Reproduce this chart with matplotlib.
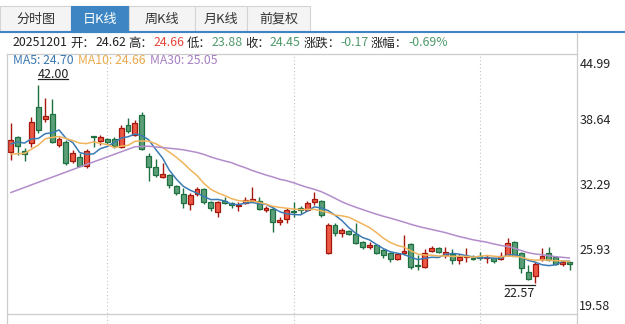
import numpy as np
import pandas as pd
import matplotlib
matplotlib.use("Agg")
import matplotlib.pyplot as plt
from matplotlib.patches import Rectangle
from matplotlib.lines import Line2D
from matplotlib.transforms import ScaledTranslation

plt.rcParams['font.family'] = ['Noto Sans CJK SC', 'DejaVu Sans']

# ---------------- data (daily K line) ----------------
open_ = [35.38, 36.85, 35.48, 36.26, 39.78, 38.61, 39.10, 36.07, 36.42, 34.53,
         34.95, 34.07, 36.90, 36.49, 36.65, 36.65, 35.93, 38.02, 37.07, 39.03,
         35.05, 33.91, 32.94, 33.19, 32.06, 31.28, 30.30, 31.28, 31.76, 30.49,
         29.57, 30.65, 30.42, 30.10, 30.42, 30.59, 30.65, 29.77, 29.81, 28.54,
         28.83, 29.64, 29.91, 29.74, 30.49, 30.59, 25.51, 28.27, 27.52, 27.72,
         27.37, 26.64, 26.15, 26.32, 25.83, 25.51, 24.95, 25.51, 26.42, 24.30,
         24.14, 25.76, 25.99, 25.34, 25.44, 24.85, 25.12, 25.10, 25.24, 25.02,
         25.02, 24.92, 25.34, 26.64, 25.51, 23.71, 23.29, 24.92, 25.57, 25.12,
         24.43, 24.62]
high = [38.27, 36.95, 35.77, 38.83, 42.00, 40.66, 40.64, 36.90, 36.58, 35.61,
        35.28, 35.70, 36.92, 37.07, 36.75, 36.85, 38.05, 38.70, 38.54, 39.29,
        35.28, 34.76, 34.31, 33.30, 32.20, 31.86, 31.40, 31.95, 31.90, 30.60,
        30.60, 30.98, 30.50, 30.49, 30.98, 31.96, 30.98, 30.16, 30.06, 29.03,
        29.97, 30.49, 30.16, 30.65, 31.47, 30.70, 28.47, 28.50, 28.01, 27.80,
        28.50, 26.70, 26.64, 26.40, 25.90, 25.60, 25.50, 27.29, 26.50, 25.34,
        25.93, 26.22, 26.10, 26.15, 25.90, 25.44, 25.99, 25.30, 25.64, 25.34,
        25.10, 25.64, 26.98, 26.75, 25.60, 24.36, 24.70, 25.99, 26.15, 25.20,
        24.85, 24.66]
low = [34.63, 35.12, 34.53, 35.93, 37.30, 38.34, 36.30, 35.90, 34.14, 34.31,
       34.00, 33.82, 35.93, 36.10, 36.20, 35.80, 35.85, 37.24, 36.95, 35.60,
       32.58, 33.00, 32.90, 31.86, 31.21, 29.91, 29.74, 31.10, 30.33, 29.67,
       29.03, 30.30, 29.91, 29.64, 30.30, 30.50, 29.70, 29.57, 27.62, 28.27,
       28.50, 29.09, 29.35, 29.60, 30.23, 29.03, 25.41, 27.23, 27.07, 27.30,
       26.40, 25.90, 25.90, 25.41, 25.08, 24.69, 24.90, 25.34, 23.94, 23.88,
       24.05, 25.60, 25.50, 25.02, 24.46, 24.46, 24.69, 24.85, 24.90, 24.59,
       24.60, 24.85, 25.25, 25.20, 23.55, 22.90, 22.57, 24.80, 24.80, 24.40,
       24.30, 23.88]
close = [36.58, 36.00, 35.24, 38.31, 37.53, 38.93, 36.42, 36.65, 34.31, 35.34,
         34.07, 35.54, 36.88, 36.88, 36.39, 36.00, 37.73, 37.49, 38.22, 35.67,
         33.91, 33.13, 33.23, 32.16, 31.43, 30.40, 31.18, 31.82, 30.49, 29.91,
         30.49, 30.45, 30.20, 30.26, 30.69, 30.79, 29.81, 29.97, 28.54, 28.76,
         29.74, 29.54, 29.74, 30.40, 30.82, 29.22, 28.27, 27.46, 27.79, 27.37,
         26.49, 26.15, 26.32, 25.57, 25.34, 24.95, 25.44, 25.73, 24.14, 24.26,
         25.51, 25.99, 25.60, 25.60, 24.85, 25.12, 25.24, 25.00, 25.02, 25.12,
         24.76, 25.24, 26.55, 25.28, 24.04, 22.97, 24.43, 25.25, 24.85, 24.46,
         24.69, 24.45]
# closes before the visible window (estimated so the moving averages start where shown)
hist_close = [28.5, 27.7, 30.8, 30.0, 31.4, 28.9, 29.2, 26.8, 27.8, 26.6,
              28.1, 29.5, 29.5, 29.0, 28.6, 30.3, 30.1, 30.8, 34.8, 33.0,
              35.5, 35.0, 34.2, 33.5, 32.8, 35.0, 35.8, 36.2, 37.4]

tabs = ['分时图', '日K线', '周K线', '月K线', '前复权']
selected_tab = 1
y_ticks = [44.99, 38.64, 32.29, 25.93, 19.58]
month_start_idx = [14, 41, 68]
ma_periods = [5, 10, 30]
ma_labels = ['MA5: 24.70', 'MA10: 24.66', 'MA30: 25.05']
info_parts = [('20251201', 'k'), ('开：', 'k'), ('24.62', 'k'), ('高：', 'k'),
              ('24.66', 'r'), ('低：', 'k'), ('23.88', 'g'), ('收：', 'k'),
              ('24.45', 'g'), ('涨跌：', 'k'), ('-0.17', 'g'), ('涨幅：', 'k'),
              ('-0.69%', 'g')]

# ---------------- layout / style ----------------
W, H = 625, 324
fig = plt.figure(figsize=(W / 100, H / 100), dpi=100)
fig.patch.set_facecolor('white')
renderer = fig.canvas.get_renderer()

def fx(x):
    return x / W

def fy(y):
    return 1 - y / H

BLUE_TAB = '#3d86c3'
BORDER = '#cccccc'
RED_TXT = '#e5473a'
GRN_TXT = '#4f9a6b'
txt_col = {'k': '#222222', 'r': RED_TXT, 'g': GRN_TXT}

# tabs
tab_edges = [0, 71, 129, 195, 247, 310]
for k, name in enumerate(tabs):
    x0, x1 = tab_edges[k], tab_edges[k + 1]
    sel = (k == selected_tab)
    fig.patches.append(Rectangle((fx(x0), fy(31.5)), (x1 - x0) / W, (31.5 - 6) / H,
                                 transform=fig.transFigure,
                                 facecolor=BLUE_TAB if sel else '#f4f4f4',
                                 edgecolor=BLUE_TAB if sel else '#d4d4d4', lw=0.8))
    fig.text(fx((x0 + x1) / 2), fy(19), name, ha='center', va='center',
             fontsize=9.4, color='white' if sel else '#333333')
fig.add_artist(Line2D([0, 1], [fy(32.3)] * 2, color=BLUE_TAB, lw=1.5))

# info line: pieces laid out one after another
x = 13.0
for k, (t, c) in enumerate(info_parts):
    txt = fig.text(fx(x), fy(43), t, ha='left', va='center', fontsize=8.9,
                   color=txt_col[c])
    bb = txt.get_window_extent(renderer=renderer)
    x += bb.width
    if t[-1] != '：':
        x += 2.5

# price axes
ax = fig.add_axes([fx(7), fy(314), (577 - 7) / W, (314 - 54) / H])
px_per_candle = 6.9
left = -(10.7 - 7) / px_per_candle
ax.set_xlim(left, left + 570 / px_per_candle)
ax.set_ylim(y_ticks[-1], y_ticks[0])
ax.set_xticks([])
ax.set_yticks([])
for sp in ax.spines.values():
    sp.set_visible(False)
ax.patch.set_alpha(0)

n = len(close)
idx = np.arange(n)
for g in month_start_idx:
    ax.axvline(g, ymin=-10 / 260, ymax=1, clip_on=False, color='#c4c4c4',
               ls=(0, (1, 2.2)), lw=0.8, zorder=1)

RED_FILL, RED_EDGE = '#ec5844', '#a3170d'
GRN_FILL, GRN_EDGE = '#5b9e78', '#1d7040'
bw = 0.7
for i in range(n):
    o, h, l, c = open_[i], high[i], low[i], close[i]
    up = c > o
    fill = RED_FILL if up else GRN_FILL
    edge = RED_EDGE if up else GRN_EDGE
    ax.vlines(i, l, h, color=edge, lw=1.0, zorder=2)
    ax.add_patch(Rectangle((i - bw / 2, min(o, c)), bw, max(abs(c - o), 0.06),
                           facecolor=fill, edgecolor=edge, lw=0.9, zorder=3))

all_close = pd.Series(hist_close + close)
ma_colors = ['#3b7bb5', '#f0b45c', '#b28ccb']
for p, col in zip(ma_periods, ma_colors):
    ma = all_close.rolling(p).mean().iloc[-n:].to_numpy()
    ax.plot(idx, ma, color=col, lw=1.1, zorder=4, solid_capstyle='round')

# MA legend, laid out one after another
x = 12.7
for lab, col in zip(ma_labels, ['#3a78b0', '#eaa94c', '#a67ec2']):
    txt = fig.text(fx(x), fy(61), lab, ha='left', va='center', fontsize=8.8, color=col)
    x += txt.get_window_extent(renderer=renderer).width + 4.5

# right-hand price labels
for k, v in enumerate(y_ticks):
    dy = -10 if k == 0 else (7 if k == len(y_ticks) - 1 else -1.5)
    ax.annotate(f'{v:.2f}', xy=(1, v), xycoords=('axes fraction', 'data'),
                xytext=(2.3 * 0.72, dy * 0.72), textcoords='offset points',
                ha='left', va='center', fontsize=9, color='#222222',
                annotation_clip=False)

# max / min markers
hi_i = int(np.argmax(high))
lo_i = int(np.argmin(low))
d = 30 / px_per_candle
t_hi = ax.transData + ScaledTranslation(0, 5.3 / 100, fig.dpi_scale_trans)
ax.plot([hi_i, hi_i + d], [high[hi_i]] * 2, transform=t_hi, color='#222222', lw=0.9,
        clip_on=False)
ax.annotate(f'{high[hi_i]:.2f}', xy=(hi_i, high[hi_i]), xytext=(15 * 0.72, 6.8 * 0.72),
            textcoords='offset points', ha='center', va='baseline', fontsize=9,
            color='#222222')
t_lo = ax.transData + ScaledTranslation(0, -1.7 / 100, fig.dpi_scale_trans)
ax.plot([lo_i - d, lo_i], [low[lo_i]] * 2, transform=t_lo, color='#222222', lw=0.9,
        clip_on=False)
ax.annotate(f'{low[lo_i]:.2f}', xy=(lo_i, low[lo_i]), xytext=(-15.5 * 0.72, -9.7 * 0.72),
            textcoords='offset points', ha='center', va='center', fontsize=9,
            color='#222222')

# frame lines
for xs, ys in [([7, 7], [54, 324]), ([577, 577], [33, 324]),
               ([7, 577], [54, 54]), ([7, 577], [314, 314])]:
    fig.add_artist(Line2D([fx(x) for x in xs], [fy(y) for y in ys], color=BORDER, lw=0.9))

fig.savefig('out.png', dpi=100, facecolor='white')
